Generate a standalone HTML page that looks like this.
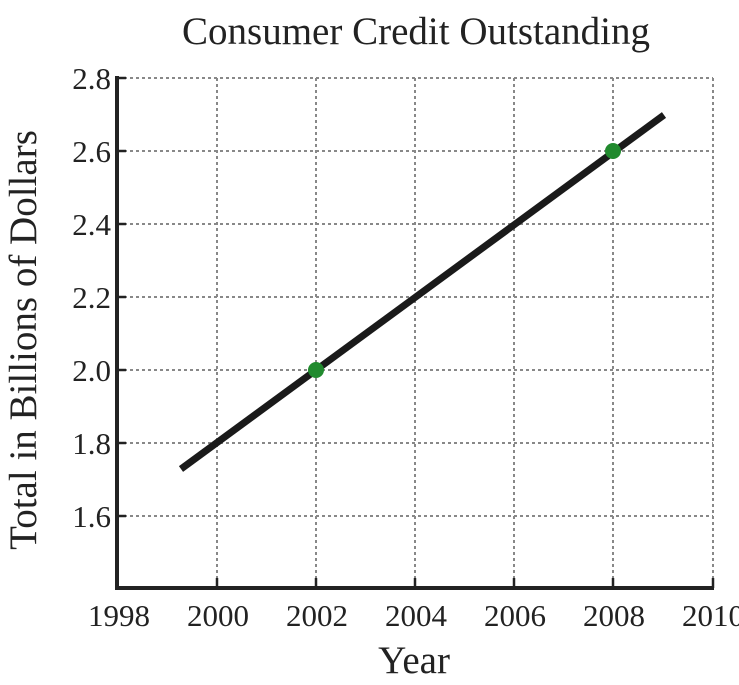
<!DOCTYPE html>
<html><head><style>body{margin:0;background:#fff}</style></head><body>
<svg width="739" height="680" xmlns="http://www.w3.org/2000/svg" font-family="Liberation Serif, serif" fill="#222">
<rect width="739" height="680" fill="#fff"/>
<g stroke="#888" stroke-width="2" stroke-dasharray="3,3">
<line x1="118" y1="78" x2="713" y2="78"/><line x1="118" y1="151" x2="713" y2="151"/>
<line x1="118" y1="224" x2="713" y2="224"/><line x1="118" y1="297" x2="713" y2="297"/>
<line x1="118" y1="370" x2="713" y2="370"/><line x1="118" y1="443" x2="713" y2="443"/>
<line x1="118" y1="516" x2="713" y2="516"/>
<line x1="217" y1="78" x2="217" y2="588"/><line x1="316" y1="78" x2="316" y2="588"/>
<line x1="415" y1="78" x2="415" y2="588"/><line x1="514" y1="78" x2="514" y2="588"/>
<line x1="613" y1="78" x2="613" y2="588"/><line x1="713" y1="78" x2="713" y2="588"/>
</g>
<g stroke="#222" stroke-width="2.5">
<line x1="217" y1="588" x2="217" y2="578"/><line x1="316" y1="588" x2="316" y2="578"/>
<line x1="415" y1="588" x2="415" y2="578"/><line x1="514" y1="588" x2="514" y2="578"/>
<line x1="613" y1="588" x2="613" y2="578"/><line x1="713" y1="588" x2="713" y2="578"/>
<line x1="118" y1="78" x2="126" y2="78"/><line x1="118" y1="151" x2="126" y2="151"/>
<line x1="118" y1="224" x2="126" y2="224"/><line x1="118" y1="297" x2="126" y2="297"/>
<line x1="118" y1="370" x2="126" y2="370"/><line x1="118" y1="443" x2="126" y2="443"/>
<line x1="118" y1="516" x2="126" y2="516"/>
</g>
<polyline points="117,76 117,588 714,588" fill="none" stroke="#222" stroke-width="4"/>
<line x1="181" y1="469" x2="664" y2="115" stroke="#1a1a1a" stroke-width="7"/>
<circle cx="316" cy="370" r="8" fill="#218a2e"/>
<circle cx="613" cy="151" r="8" fill="#218a2e"/>
<text x="416" y="44" font-size="39" text-anchor="middle">Consumer Credit Outstanding</text>
<g font-size="31" text-anchor="end">
<text x="111" y="89">2.8</text><text x="111" y="162">2.6</text><text x="111" y="235">2.4</text>
<text x="111" y="308">2.2</text><text x="111" y="381">2.0</text><text x="111" y="454">1.8</text>
<text x="111" y="527">1.6</text>
</g>
<g font-size="31" text-anchor="middle">
<text x="119" y="626">1998</text><text x="218" y="626">2000</text><text x="317" y="626">2002</text>
<text x="416" y="626">2004</text><text x="515" y="626">2006</text><text x="614" y="626">2008</text>
<text x="713" y="626">2010</text>
</g>
<text x="414" y="673" font-size="39" text-anchor="middle">Year</text>
<text transform="translate(36,340) rotate(-90)" font-size="39" text-anchor="middle">Total in Billions of Dollars</text>
</svg>
</body></html>
